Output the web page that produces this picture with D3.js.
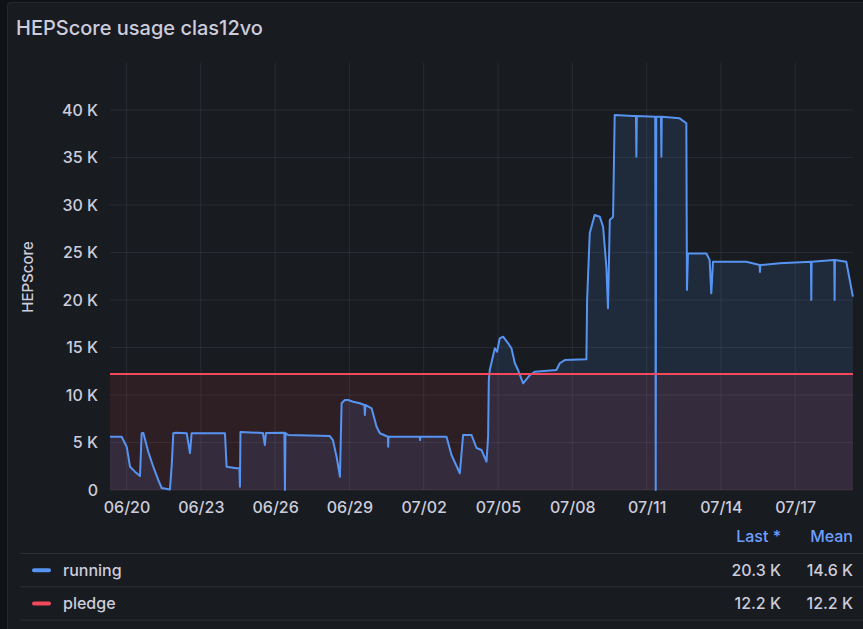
<!DOCTYPE html>
<html>
<head>
<meta charset="utf-8">
<script src="https://cdn.jsdelivr.net/npm/d3@7"></script>
<style>
  html, body { margin: 0; padding: 0; background: #111217; }
  svg { display: block; }
  text { font-family: Inter, "Noto Sans", sans-serif; }
</style>
</head>
<body>
<script>
// data
const runningTimes = [
  "06-19 08:00", "06-19 19:20", "06-20 00:10", "06-20 03:25", "06-20 08:10", "06-20 13:05",
  "06-20 14:40", "06-20 16:20", "06-20 21:05", "06-21 01:55", "06-21 06:50", "06-21 10:05",
  "06-21 18:05", "06-21 19:50", "06-21 21:20", "06-21 23:55", "06-22 10:20", "06-22 13:30",
  "06-22 15:05", "06-23 23:25", "06-24 01:00", "06-24 10:40", "06-24 13:25", "06-24 13:55",
  "06-24 14:25", "06-25 12:10", "06-25 14:05", "06-25 15:05", "06-26 09:00", "06-26 09:30",
  "06-26 10:00", "06-26 12:40", "06-28 05:05", "06-28 08:00", "06-28 11:35", "06-28 14:50",
  "06-28 16:25", "06-28 19:35", "06-28 22:50", "06-29 03:35", "06-29 10:05", "06-29 14:30",
  "06-29 15:00", "06-29 15:30", "06-29 21:30", "06-30 02:20", "06-30 05:30", "06-30 13:20",
  "06-30 13:35", "06-30 13:55", "07-01 20:10", "07-01 20:30", "07-01 20:50", "07-02 22:05",
  "07-03 02:55", "07-03 11:00", "07-03 14:10", "07-03 22:20", "07-04 03:10", "07-04 08:00",
  "07-04 12:50", "07-04 14:25", "07-04 15:05", "07-04 16:00", "07-04 20:55", "07-04 23:05",
  "07-05 01:40", "07-05 04:55", "07-05 09:50", "07-05 13:00", "07-05 16:20", "07-05 19:25",
  "07-06 00:20", "07-06 06:50", "07-06 11:35", "07-07 08:35", "07-07 11:50", "07-07 16:40",
  "07-08 13:40", "07-08 14:20", "07-08 16:55", "07-08 21:40", "07-09 02:35", "07-09 05:50",
  "07-09 09:00", "07-09 10:35", "07-09 12:20", "07-09 15:30", "07-09 17:05", "07-10 10:50",
  "07-10 13:40", "07-10 14:05", "07-10 14:30", "07-11 08:20", "07-11 08:50", "07-11 09:20",
  "07-11 13:55", "07-11 14:20", "07-11 14:40", "07-12 08:00", "07-12 14:30", "07-12 15:05",
  "07-12 16:05", "07-13 09:55", "07-13 13:05", "07-13 14:40", "07-13 16:20", "07-15 00:40",
  "07-15 13:30", "07-15 13:50", "07-15 14:10", "07-16 08:55", "07-17 15:15", "07-17 15:35",
  "07-17 15:55", "07-18 13:50", "07-18 14:10", "07-18 14:30", "07-19 01:30", "07-19 07:55"
]
const runningValues = [
  5600, 5600, 4560, 2450, 1930, 1470,
  5970, 6000, 4030, 2450, 1050, 210,
  60, 2630, 5970, 6030, 5970, 3890,
  5970, 5970, 2450, 2280, 2280, 350,
  6100, 6000, 4740, 6000, 6030, 0,
  6000, 5790, 5680, 5260, 3500, 1400,
  9130, 9470, 9470, 9290, 9130, 8950,
  7890, 8950, 8600, 6660, 5970, 5610,
  4560, 5610, 5610, 5260, 5610, 5610,
  3680, 1760, 5790, 5790, 4420, 4210,
  2980, 5610, 11580, 12630, 14920, 14560,
  15970, 16140, 15440, 14920, 13340, 12630,
  11230, 12100, 12450, 12630, 13340, 13680,
  13760, 20000, 27050, 28950, 28770, 27710,
  23500, 19130, 28420, 28770, 39470, 39370,
  39370, 35080, 39370, 39290, 0, 39290,
  39290, 35080, 39290, 39120, 38600, 21050,
  24900, 24900, 24210, 20700, 24030, 24030,
  23680, 22950, 23680, 23860, 24030, 20000,
  24030, 24210, 20000, 24210, 24030, 20350
]
const pledgeValue = 12200
const timeRange = ["06-19 08:00", "07-19 08:00"]

const xTickLabels = ["06/20", "06/23", "06/26", "06/29", "07/02", "07/05", "07/08", "07/11", "07/14", "07/17"]
const yTickValues = [0, 5000, 10000, 15000, 20000, 25000, 30000, 35000, 40000]

const legendNames = ["running", "pledge"]
const legendLast = ["20.3 K", "12.2 K"]
const legendMean = ["14.6 K", "12.2 K"]

// layout
const W = 863, H = 629
const PlotLeft = 110, PlotRight = 853, PlotTop = 62.5, PlotBottom = 490
const TextColor = "#ccccdc"
const GridColor = "rgba(204,204,220,0.09)"
const Blue = "#5794F2", Red = "#F2495C"
const FontSize = "16px"

const parseT = d3.timeParse("%Y-%m-%d %H:%M")
const parseTick = d3.timeParse("%Y/%m/%d")
const toDate = s => parseT("2024-" + s)

const running = runningTimes.map((t, i) => ({t: toDate(t), v: runningValues[i]}))
const pledge = timeRange.map(t => ({t: toDate(t), v: pledgeValue}))

const svg = d3.select("body").append("svg")
    .attr("width", W)
    .attr("height", H)
    .attr("viewBox", `0 0 ${W} ${H}`)

// panel
svg.append("rect")
    .attr("x", 7.5).attr("y", 2.5)
    .attr("width", W + 10).attr("height", H + 10)
    .attr("rx", 3)
    .attr("fill", "#181b1f")
    .attr("stroke", "rgba(204,204,220,0.1)")

svg.append("text")
    .attr("x", 16).attr("y", 35)
    .attr("fill", TextColor)
    .attr("font-size", "20px")
    .attr("font-weight", 500)
    .text("HEPScore usage clas12vo")

const x = d3.scaleTime()
    .domain(timeRange.map(toDate))
    .range([PlotLeft, PlotRight])
const y = d3.scaleLinear()
    .domain([0, 45000])
    .range([PlotBottom, PlotTop])

const xTicks = xTickLabels.map(s => parseTick("2024/" + s))

// grid
const grid = svg.append("g")
grid.selectAll(".hg").data(yTickValues).join("line")
    .attr("x1", PlotLeft).attr("x2", PlotRight)
    .attr("y1", d => y(d)).attr("y2", d => y(d))
    .attr("stroke", GridColor)
grid.selectAll(".vg").data(xTicks).join("line")
    .attr("x1", d => x(d)).attr("x2", d => x(d))
    .attr("y1", PlotTop).attr("y2", PlotBottom)
    .attr("stroke", GridColor)

// axes
const fmtY = v => v === 0 ? "0" : `${v / 1000} K`
const yAxis = svg.append("g")
    .attr("transform", `translate(${PlotLeft},0)`)
    .call(d3.axisLeft(y).tickValues(yTickValues).tickFormat(fmtY).tickSize(0).tickPadding(12))
const xAxis = svg.append("g")
    .attr("transform", `translate(0,${PlotBottom})`)
    .call(d3.axisBottom(x).tickValues(xTicks).tickFormat(d3.timeFormat("%m/%d")).tickSize(0).tickPadding(12))
for (const ax of [xAxis, yAxis]) {
    ax.select(".domain").remove()
    ax.selectAll("text")
        .attr("fill", TextColor)
        .attr("font-size", FontSize)
        .attr("font-weight", 500)
        .attr("font-family", "Inter, 'Noto Sans', sans-serif")
}

svg.append("text")
    .attr("transform", `translate(33,277) rotate(-90)`)
    .attr("text-anchor", "middle")
    .attr("fill", TextColor)
    .attr("font-size", "15px")
    .attr("font-weight", 500)
    .text("HEPScore")

// series
const area = d3.area().x(d => x(d.t)).y0(y(0)).y1(d => y(d.v))
const line = d3.line().x(d => x(d.t)).y(d => y(d.v))

svg.append("path").datum(running)
    .attr("d", area)
    .attr("fill", Blue).attr("fill-opacity", 0.13)
svg.append("path").datum(pledge)
    .attr("d", area)
    .attr("fill", Red).attr("fill-opacity", 0.1)
svg.append("path").datum(running)
    .attr("d", line)
    .attr("fill", "none")
    .attr("stroke", Blue).attr("stroke-width", 2)
    .attr("stroke-linejoin", "round")
svg.append("path").datum(pledge)
    .attr("d", line)
    .attr("fill", "none")
    .attr("stroke", Red).attr("stroke-width", 2)

// legend table
const legend = svg.append("g")
    .attr("font-size", FontSize)
    .attr("font-weight", 500)
legend.append("text")
    .attr("x", 781).attr("y", 542)
    .attr("text-anchor", "end")
    .attr("fill", "#6E9FFF")
    .text("Last *")
legend.append("text")
    .attr("x", 853).attr("y", 542)
    .attr("text-anchor", "end")
    .attr("fill", "#6E9FFF")
    .text("Mean")

const RowTop = 553.5, RowH = 33.3
legend.selectAll(".sep").data([0, 1, 2]).join("line")
    .attr("x1", 20).attr("x2", W)
    .attr("y1", i => RowTop + i * RowH).attr("y2", i => RowTop + i * RowH)
    .attr("stroke", "rgba(204,204,220,0.12)")

const colors = [Blue, Red]
legendNames.forEach((name, i) => {
    const cy = RowTop + RowH * (i + 0.5)
    legend.append("rect")
        .attr("x", 32).attr("y", cy - 2)
        .attr("width", 19).attr("height", 4).attr("rx", 2)
        .attr("fill", colors[i])
    legend.append("text")
        .attr("x", 63).attr("y", cy + 5.5)
        .attr("fill", TextColor)
        .text(name)
    legend.append("text")
        .attr("x", 781).attr("y", cy + 5.5)
        .attr("text-anchor", "end")
        .attr("fill", TextColor)
        .text(legendLast[i])
    legend.append("text")
        .attr("x", 853).attr("y", cy + 5.5)
        .attr("text-anchor", "end")
        .attr("fill", TextColor)
        .text(legendMean[i])
})
</script>
</body>
</html>
